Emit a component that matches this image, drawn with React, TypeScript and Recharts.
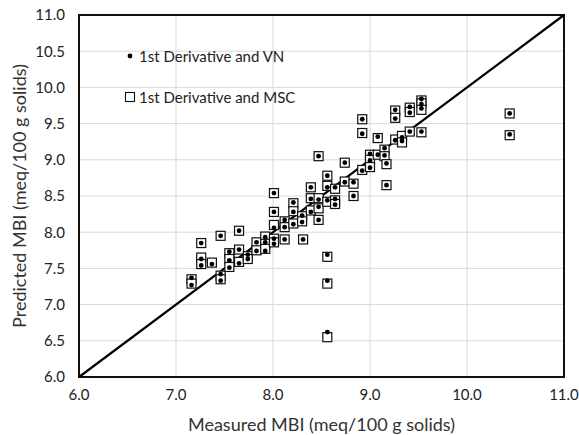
import React from "react";
import {
  ScatterChart,
  Scatter,
  XAxis,
  YAxis,
  CartesianGrid,
  ReferenceLine,
  ReferenceArea,
} from "recharts";

const vnX = [
  7.16, 7.16, 7.26, 7.26, 7.26, 7.37, 7.46, 7.46, 7.46, 7.55, 7.55, 7.55,
  7.65, 7.65, 7.65, 7.74, 7.74, 7.83, 7.83, 7.92, 7.92, 7.92, 8.01, 8.01,
  8.01, 8.01, 8.01, 8.12, 8.12, 8.12, 8.21, 8.21, 8.21, 8.3, 8.3, 8.31,
  8.39, 8.39, 8.39, 8.47, 8.47, 8.47, 8.47, 8.56, 8.56, 8.56, 8.56, 8.56,
  8.56, 8.64, 8.64, 8.64, 8.74, 8.74, 8.83, 8.83, 8.92, 8.92, 8.92, 9.0,
  9.0, 9.0, 9.08, 9.08, 9.15, 9.15, 9.17, 9.17, 9.26, 9.26, 9.26, 9.33,
  9.33, 9.41, 9.41, 9.41, 9.53, 9.53, 9.53, 9.53, 10.44, 10.44,
];
const vnY = [
  7.37, 7.27, 7.85, 7.63, 7.54, 7.56, 7.95, 7.42, 7.33, 7.73, 7.61, 7.51,
  8.02, 7.76, 7.57, 7.69, 7.63, 7.86, 7.74, 7.93, 7.86, 7.74, 8.54, 8.28,
  8.06, 7.91, 7.84, 8.17, 8.07, 7.9, 8.41, 8.28, 8.11, 8.23, 8.14, 7.9,
  8.62, 8.46, 8.28, 9.05, 8.45, 8.35, 8.17, 8.78, 8.62, 8.44, 7.69, 7.33,
  6.62, 8.62, 8.46, 8.38, 8.96, 8.69, 8.69, 8.5, 9.56, 9.36, 8.85, 9.08,
  8.99, 8.89, 9.32, 9.07, 9.16, 9.06, 8.95, 8.65, 9.69, 9.57, 9.27, 9.31,
  9.26, 9.73, 9.65, 9.39, 9.84, 9.77, 9.71, 9.39, 9.64, 9.35,
];
const mscX = [
  7.16, 7.16, 7.26, 7.26, 7.26, 7.37, 7.46, 7.46, 7.46, 7.55, 7.55, 7.55,
  7.65, 7.65, 7.65, 7.74, 7.74, 7.83, 7.83, 7.92, 7.92, 7.92, 8.01, 8.01,
  8.01, 8.01, 8.01, 8.12, 8.12, 8.12, 8.21, 8.21, 8.21, 8.3, 8.3, 8.31,
  8.39, 8.39, 8.39, 8.47, 8.47, 8.47, 8.47, 8.56, 8.56, 8.56, 8.56, 8.56,
  8.56, 8.64, 8.64, 8.64, 8.74, 8.74, 8.83, 8.83, 8.92, 8.92, 8.92, 9.0,
  9.0, 9.0, 9.08, 9.08, 9.15, 9.15, 9.17, 9.17, 9.26, 9.26, 9.26, 9.33,
  9.33, 9.41, 9.41, 9.41, 9.53, 9.53, 9.53, 9.53, 10.44, 10.44,
];
const mscY = [
  7.35, 7.29, 7.85, 7.65, 7.56, 7.58, 7.95, 7.4, 7.35, 7.71, 7.63, 7.52,
  8.02, 7.76, 7.59, 7.67, 7.63, 7.86, 7.75, 7.94, 7.84, 7.77, 8.54, 8.28,
  8.1, 7.91, 7.86, 8.15, 8.07, 7.9, 8.4, 8.29, 8.12, 8.22, 8.15, 7.9,
  8.62, 8.47, 8.3, 9.05, 8.47, 8.33, 8.17, 8.78, 8.64, 8.42, 7.66, 7.29,
  6.55, 8.6, 8.44, 8.39, 8.96, 8.7, 8.67, 8.5, 9.56, 9.37, 8.86, 9.07,
  9.0, 8.9, 9.3, 9.07, 9.14, 9.05, 8.94, 8.65, 9.68, 9.58, 9.28, 9.33,
  9.24, 9.72, 9.66, 9.39, 9.82, 9.78, 9.69, 9.38, 9.64, 9.34,
];

const xTicks = [6, 7, 8, 9, 10, 11];
const yTicks = [6, 6.5, 7, 7.5, 8, 8.5, 9, 9.5, 10, 10.5, 11];
const seriesNames = ["1st Derivative and VN", "1st Derivative and MSC"];

const vnData = vnX.map((x, i) => ({ x, y: vnY[i] }));
const mscData = mscX.map((x, i) => ({ x, y: mscY[i] }));

const FONT = "Lato, 'Noto Sans', sans-serif";

const Dot = (props: any) => {
  const { cx, cy } = props;
  if (cx == null || cy == null) return null;
  return <circle cx={cx} cy={cy} r={2.4} fill="#000" />;
};

const Square = (props: any) => {
  const { cx, cy } = props;
  if (cx == null || cy == null) return null;
  return (
    <rect
      x={cx - 4.5}
      y={cy - 4.5}
      width={9}
      height={9}
      fill="#fff"
      stroke="#111"
      strokeWidth={1.2}
    />
  );
};

const LegendOverlay = () => (
  <div
    style={{
      position: "absolute",
      left: 124,
      top: 46,
      fontFamily: FONT,
      fontSize: 15,
      color: "#222",
      pointerEvents: "none",
    }}
  >
    <div style={{ display: "flex", alignItems: "center", height: 20 }}>
      <svg width={12} height={12} style={{ marginRight: 3 }}>
        <circle cx={6} cy={6} r={2.4} fill="#000" />
      </svg>
      <span>{seriesNames[0]}</span>
    </div>
    <div style={{ display: "flex", alignItems: "center", height: 20, marginTop: 21 }}>
      <svg width={12} height={12} style={{ marginRight: 3 }}>
        <rect x={1.5} y={1.5} width={9} height={9} fill="#fff" stroke="#111" strokeWidth={1.1} />
      </svg>
      <span>{seriesNames[1]}</span>
    </div>
  </div>
);

export default function App() {
  return (
    <div style={{ position: "absolute", left: 0, top: 0, width: 579, height: 435, background: "#fff" }}>
      <ScatterChart
        width={579}
        height={435}
        margin={{ top: 15, right: 15, bottom: 18, left: 19 }}
      >
        <CartesianGrid stroke="#d9d9d9" strokeWidth={1} />
        <XAxis
          type="number"
          dataKey="x"
          domain={[6, 11]}
          ticks={xTicks}
          tickFormatter={(v: number) => v.toFixed(1)}
          tickLine={false}
          axisLine={false}
          height={40}
          tick={{ fontFamily: FONT, fontSize: 15, fill: "#222" }}
          tickMargin={6}
          label={{
            value: "Measured MBI (meq/100 g solids)",
            position: "insideBottom",
            offset: -14,
            style: { fontFamily: FONT, fontSize: 18, fill: "#333" },
          }}
          allowDataOverflow
        />
        <YAxis
          type="number"
          dataKey="y"
          domain={[6, 11]}
          ticks={yTicks}
          tickFormatter={(v: number) => v.toFixed(1)}
          tickLine={false}
          axisLine={false}
          width={60}
          tick={{ fontFamily: FONT, fontSize: 15, fill: "#222" }}
          tickMargin={8}
          label={{
            value: "Predicted MBI (meq/100 g solids)",
            angle: -90,
            position: "insideLeft",
            offset: 1,
            style: { fontFamily: FONT, fontSize: 18, fill: "#333", textAnchor: "middle" },
          }}
          allowDataOverflow
        />
        <ReferenceArea
          x1={6}
          x2={11}
          y1={6}
          y2={11}
          fill="none"
          stroke="#111"
          strokeWidth={2}
          ifOverflow="visible"
        />
        <Scatter
          name={seriesNames[1]}
          data={mscData}
          shape={<Square />}
          isAnimationActive={false}
        />
        <Scatter
          name={seriesNames[0]}
          data={vnData}
          shape={<Dot />}
          isAnimationActive={false}
        />
        <ReferenceLine
          segment={[
            { x: 6, y: 6 },
            { x: 11, y: 11 },
          ]}
          stroke="#000"
          strokeWidth={2.2}
        />
      </ScatterChart>
      <LegendOverlay />
    </div>
  );
}
